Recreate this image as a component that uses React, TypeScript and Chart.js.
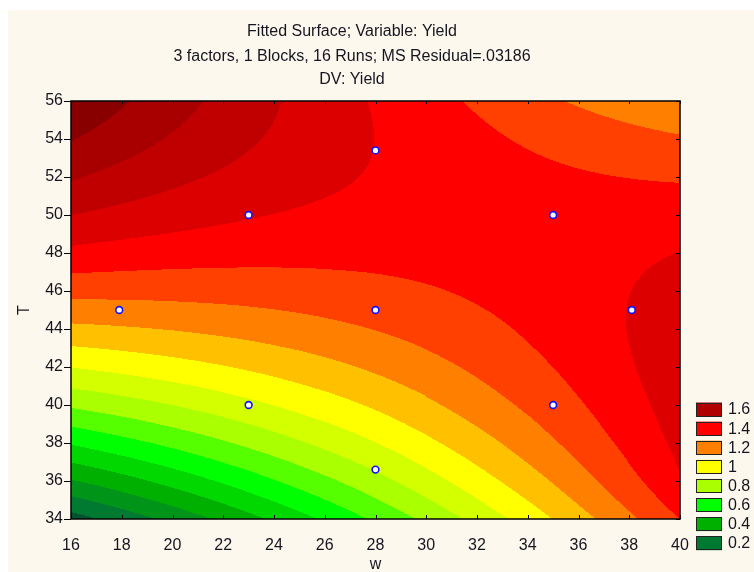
import React, { useEffect, useRef } from "react";
import { Chart, registerables } from "chart.js";

Chart.register(...registerables);

const FONT = "'Liberation Sans', Arial, Helvetica, sans-serif";
const TEXT = "#15151f";

const titleLines = [
  "Fitted Surface; Variable: Yield",
  "3 factors, 1 Blocks, 16 Runs; MS Residual=.03186",
  "DV: Yield",
];

// Fitted surface: grid of Yield values (columns = w nodes, rows = T nodes)
const wNodes = [16, 20, 24, 28, 32, 36, 40];
const tNodes = [34, 36, 38, 40, 42, 44, 46, 48, 50, 52, 54, 56];
const yieldT34 = [0.055, 0.229, 0.416, 0.617, 0.831, 1.06, 1.3];
const yieldT36 = [0.291, 0.435, 0.594, 0.765, 0.955, 1.16, 1.385];
const yieldT38 = [0.51, 0.626, 0.755, 0.898, 1.06, 1.235, 1.425];
const yieldT40 = [0.715, 0.801, 0.902, 1.015, 1.148, 1.29, 1.447];
const yieldT42 = [0.903, 0.961, 1.032, 1.117, 1.218, 1.33, 1.458];
const yieldT44 = [1.076, 1.105, 1.147, 1.203, 1.272, 1.356, 1.453];
const yieldT46 = [1.233, 1.233, 1.246, 1.273, 1.313, 1.367, 1.434];
const yieldT48 = [1.375, 1.346, 1.33, 1.328, 1.339, 1.364, 1.402];
const yieldT50 = [1.501, 1.443, 1.398, 1.367, 1.35, 1.345, 1.355];
const yieldT52 = [1.611, 1.524, 1.451, 1.391, 1.344, 1.31, 1.289];
const yieldT54 = [1.706, 1.59, 1.488, 1.399, 1.322, 1.258, 1.21];
const yieldT56 = [1.786, 1.641, 1.509, 1.391, 1.285, 1.188, 1.115];
const yieldRows = [
  yieldT34, yieldT36, yieldT38, yieldT40, yieldT42, yieldT44,
  yieldT46, yieldT48, yieldT50, yieldT52, yieldT54, yieldT56,
];

// Contour bands every 0.1 (band k covers k*0.1 .. (k+1)*0.1)
const bandStep = 0.1;
const bandColors = [
  "#00552f", "#007a30", "#009418", "#00b000", "#00d800", "#00ff00",
  "#55ff00", "#aaff00", "#d4ff00", "#ffff00", "#ffc000", "#ff8000",
  "#ff4000", "#ff0000", "#dc0000", "#c00000", "#a80000", "#880000",
];

const legendLabels = ["1.6", "1.4", "1.2", "1", "0.8", "0.6", "0.4", "0.2"];
const legendColors = ["#b00000", "#ff0000", "#ff8000", "#ffff00", "#aaff00", "#00ff00", "#00b000", "#007a30"];

// Design runs
const runW = [17.9, 23, 23, 28, 28, 28, 35, 35, 38.1];
const runT = [45, 50, 40, 53.4, 45, 36.6, 50, 40, 45];

const wMin = 16, wMax = 40, wStep = 2;
const tMin = 34, tMax = 56, tStep = 2;

function hexToRgb(h: string): [number, number, number] {
  const n = parseInt(h.slice(1), 16);
  return [(n >> 16) & 255, (n >> 8) & 255, n & 255];
}

function stencil(pos: number, n: number) {
  let k0 = Math.round(pos) - 1;
  k0 = Math.max(0, Math.min(n - 3, k0));
  const t = pos - k0;
  return { k0, w: [((t - 1) * (t - 2)) / 2, -t * (t - 2), (t * (t - 1)) / 2] };
}

const surfacePlugin = {
  id: "fittedSurface",
  beforeDatasetsDraw(chart: any) {
    const { ctx, chartArea, scales } = chart;
    const xs = scales.x, ys = scales.y;
    const left = Math.round(chartArea.left);
    const top = Math.round(chartArea.top);
    const right = Math.round(chartArea.right);
    const bottom = Math.round(chartArea.bottom);
    const W = right - left, H = bottom - top;
    const img = ctx.createImageData(W, H);
    const rgb = bandColors.map(hexToRgb);
    const dw = wNodes[1] - wNodes[0];
    const dt = tNodes[1] - tNodes[0];
    const cols = [] as any[];
    for (let px = 0; px < W; px++) {
      const w = xs.getValueForPixel(left + px + 0.5);
      cols.push(stencil((w - wNodes[0]) / dw, wNodes.length));
    }
    for (let py = 0; py < H; py++) {
      const t = ys.getValueForPixel(top + py + 0.5);
      const rs = stencil((t - tNodes[0]) / dt, tNodes.length);
      const r0 = yieldRows[rs.k0], r1 = yieldRows[rs.k0 + 1], r2 = yieldRows[rs.k0 + 2];
      const comb = wNodes.map((_, i) => rs.w[0] * r0[i] + rs.w[1] * r1[i] + rs.w[2] * r2[i]);
      for (let px = 0; px < W; px++) {
        const cs = cols[px];
        const z = cs.w[0] * comb[cs.k0] + cs.w[1] * comb[cs.k0 + 1] + cs.w[2] * comb[cs.k0 + 2];
        let k = Math.floor(z / bandStep);
        if (k < 0) k = 0;
        if (k > rgb.length - 1) k = rgb.length - 1;
        const c = rgb[k];
        const o = (py * W + px) * 4;
        img.data[o] = c[0];
        img.data[o + 1] = c[1];
        img.data[o + 2] = c[2];
        img.data[o + 3] = 255;
      }
    }
    ctx.putImageData(img, left, top);

    ctx.save();
    ctx.strokeStyle = "#000";
    ctx.lineWidth = 1;
    for (let v = wMin; v <= wMax; v += wStep) {
      const x = Math.round(xs.getPixelForValue(v)) + 0.5;
      ctx.beginPath();
      ctx.moveTo(x, bottom);
      ctx.lineTo(x, bottom - 4);
      ctx.moveTo(x, top);
      ctx.lineTo(x, top + 3);
      ctx.stroke();
    }
    for (let v = tMin; v <= tMax; v += tStep) {
      const y = Math.round(ys.getPixelForValue(v)) + 0.5;
      ctx.beginPath();
      ctx.moveTo(right, y);
      ctx.lineTo(right - 4, y);
      ctx.stroke();
    }
    ctx.lineWidth = 1.5;
    ctx.strokeRect(left, top, W, H);
    ctx.restore();
  },
};

const decorPlugin = {
  id: "decor",
  afterDraw(chart: any) {
    const { ctx } = chart;
    ctx.save();
    ctx.fillStyle = TEXT;
    ctx.font = `16px ${FONT}`;
    ctx.textAlign = "center";
    ctx.textBaseline = "middle";
    const ys = [22, 47, 70];
    titleLines.forEach((s, i) => ctx.fillText(s, 344, ys[i]));

    ctx.textAlign = "left";
    legendLabels.forEach((lab, i) => {
      const y0 = 392.5 + i * 19.1;
      ctx.fillStyle = legendColors[i];
      ctx.fillRect(688, y0, 26, 14);
      ctx.strokeStyle = "#222";
      ctx.lineWidth = 1;
      ctx.strokeRect(688.5, Math.round(y0) + 0.5, 25, 13);
      ctx.fillStyle = TEXT;
      ctx.fillText(lab, 720, y0 + 7.5);
    });
    ctx.restore();
  },
};

export default function App() {
  const ref = useRef<HTMLCanvasElement | null>(null);
  useEffect(() => {
    if (!ref.current) return;
    const font = { family: FONT, size: 16 };
    const chart = new Chart(ref.current, {
      type: "scatter",
      data: {
        datasets: [
          {
            label: "Runs",
            data: runW.map((w, i) => ({ x: w, y: runT[i] })),
            pointRadius: 3.4,
            pointBackgroundColor: "#ffffff",
            pointBorderColor: "#1010ff",
            pointBorderWidth: 1.6,
            pointHoverRadius: 3.4,
          },
        ],
      },
      options: {
        animation: false,
        responsive: false,
        devicePixelRatio: 1,
        events: [],
        layout: { padding: { left: 0, top: 91, right: 74, bottom: 0 } },
        plugins: {
          legend: { display: false },
          tooltip: { enabled: false },
          title: { display: false },
        },
        scales: {
          x: {
            type: "linear",
            position: "bottom",
            min: wMin,
            max: wMax,
            afterFit: (s: any) => {
              s.height = 53;
            },
            ticks: { stepSize: wStep, font, color: TEXT, padding: 9, maxRotation: 0, autoSkip: false },
            grid: { display: false },
            border: { display: false },
            title: { display: true, text: "w", font, color: TEXT, padding: { top: 0, bottom: -2 } },
          },
          y: {
            type: "linear",
            position: "left",
            min: tMin,
            max: tMax,
            afterFit: (s: any) => {
              s.width = 63;
            },
            ticks: { stepSize: tStep, font, color: TEXT, padding: 1, autoSkip: false },
            grid: { display: true, drawOnChartArea: false, drawTicks: true, tickLength: 7, color: "#000", lineWidth: 1 },
            border: { display: false },
            title: { display: true, text: "T", font, color: TEXT, padding: { top: 7, bottom: 0 } },
          },
        },
      } as any,
      plugins: [surfacePlugin, decorPlugin],
    });
    return () => chart.destroy();
  }, []);

  return (
    <div
      style={{
        position: "fixed",
        left: 8,
        top: 10,
        width: 746,
        height: 562,
        background: "#fdf8ee",
      }}
    >
      <canvas ref={ref} width={746} height={562} style={{ display: "block" }} />
    </div>
  );
}
